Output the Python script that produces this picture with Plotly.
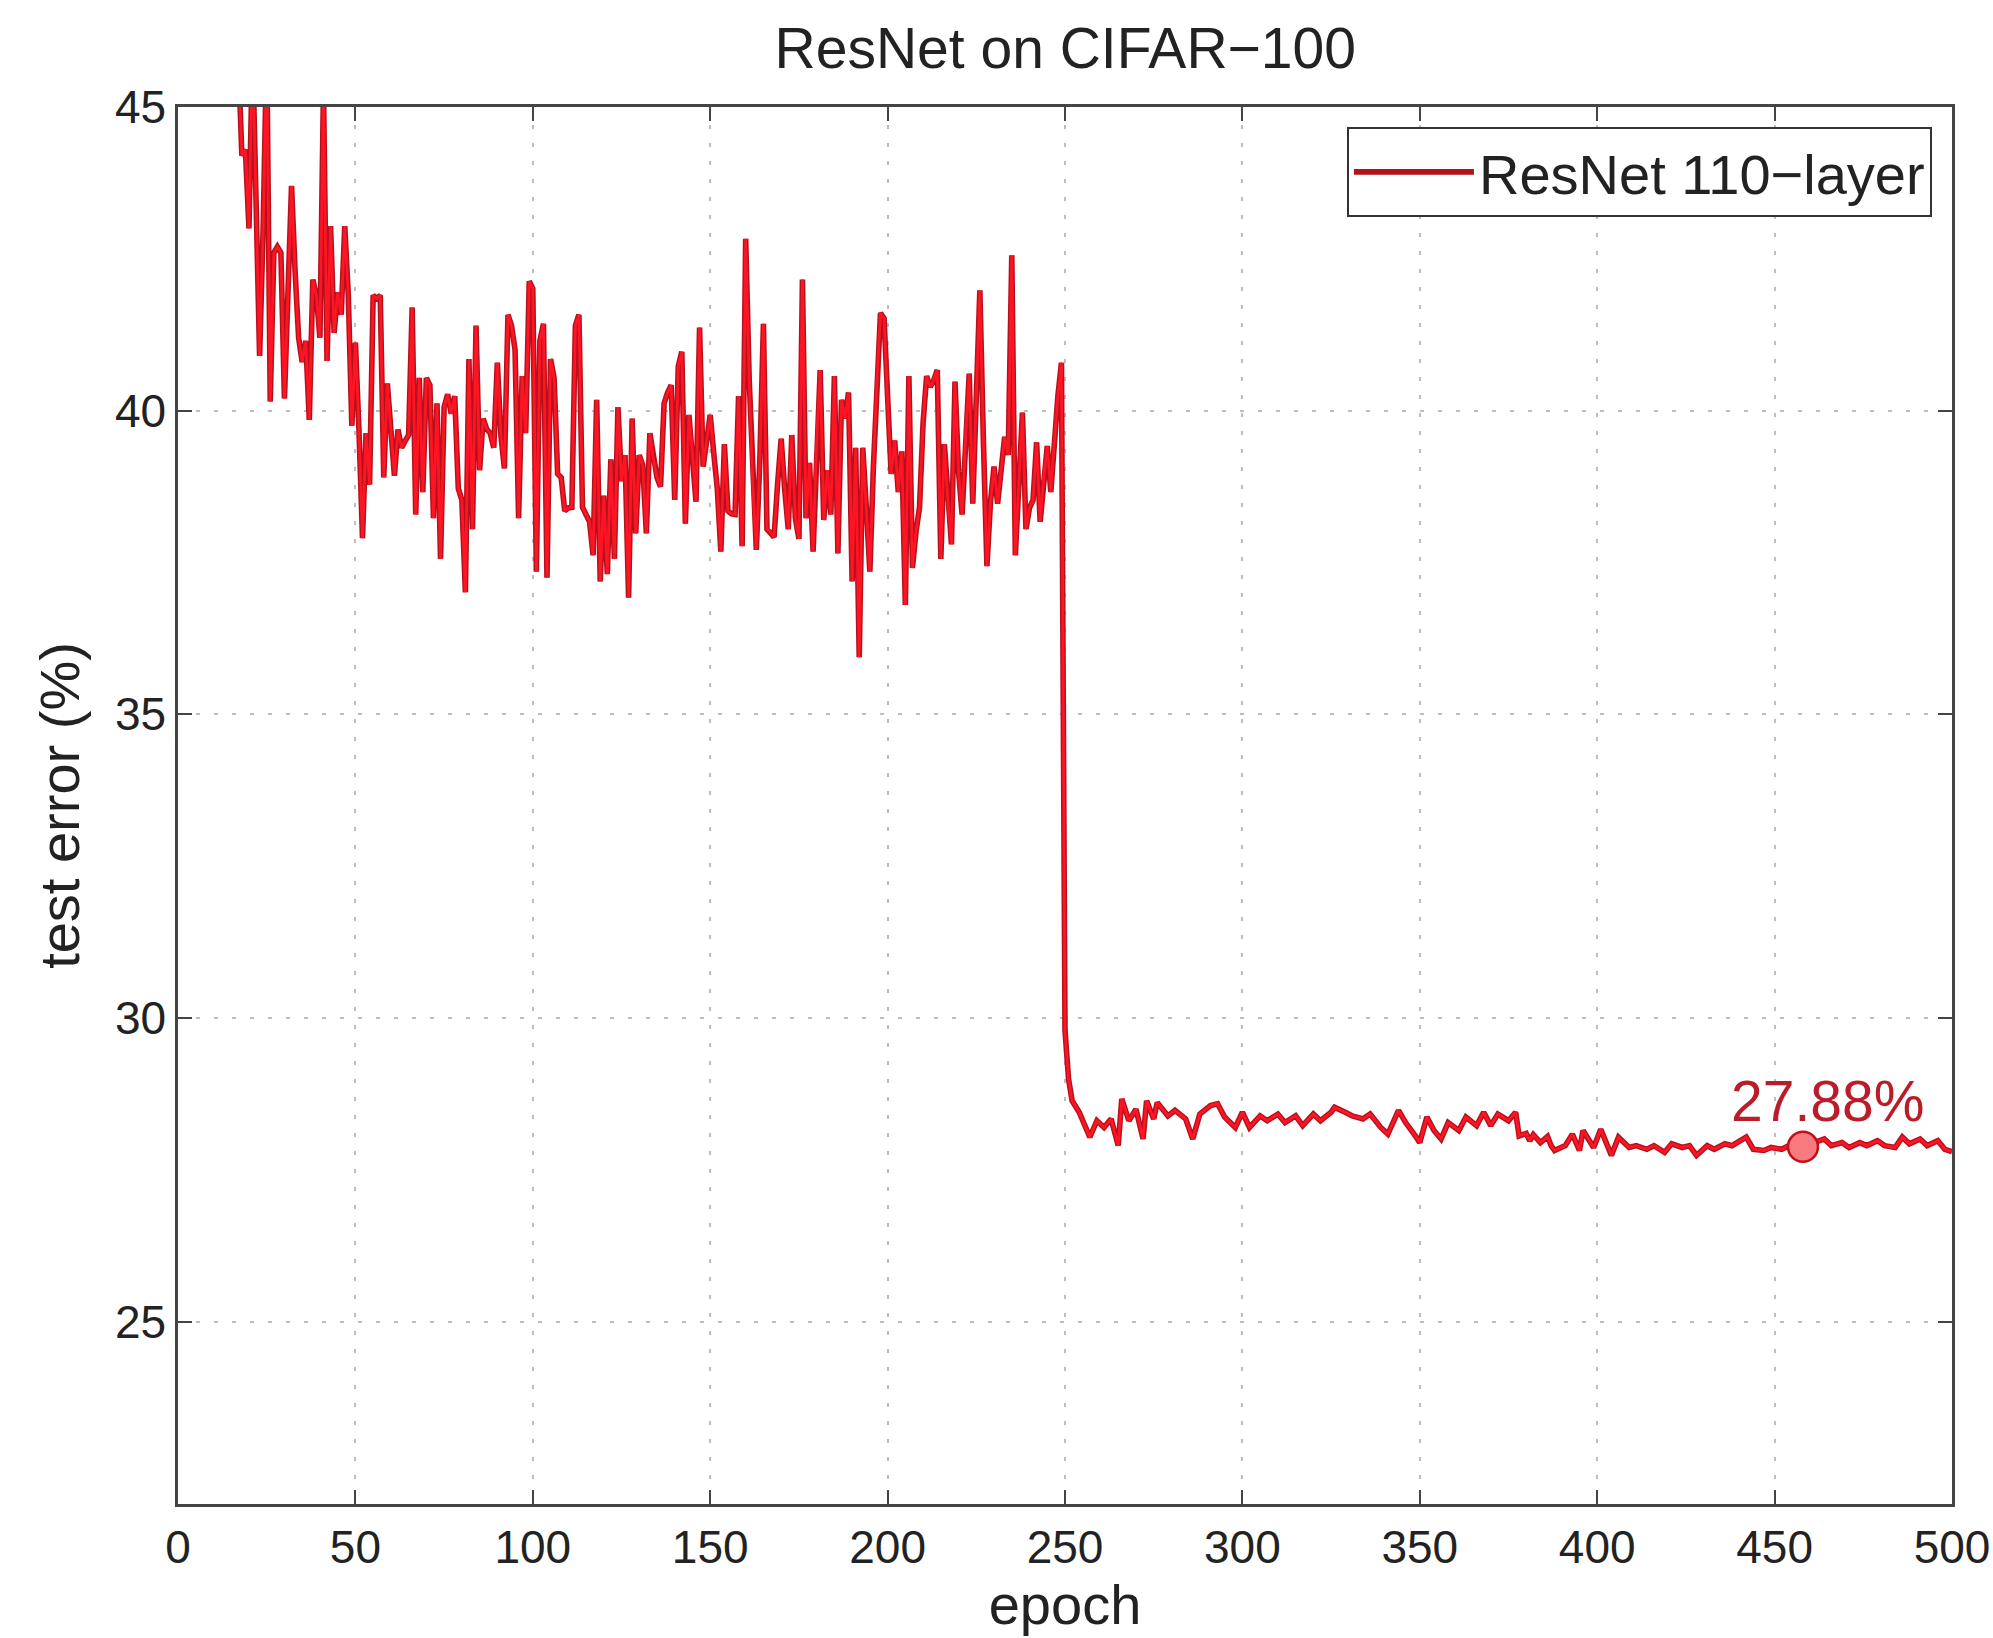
import plotly.graph_objects as go

# ---- data (epoch, test error %) ----
epochs_phase1 = [16, 17, 18, 19, 20, 21, 22, 23, 24, 25, 26, 27, 28, 29, 30, 31, 32, 33, 34, 35,
                 36, 37, 38, 39, 40, 41, 42, 43, 44, 45, 46, 47, 48, 49, 50, 51, 52, 53, 54, 55,
                 56, 57, 58, 59, 60, 61, 62, 63, 64, 65, 66, 67, 68, 69, 70, 71, 72, 73, 74, 75,
                 76, 77, 78, 79, 80, 81, 82, 83, 84, 85, 86, 87, 88, 89, 90, 91, 92, 93, 94, 95,
                 96, 97, 98, 99, 100, 101, 102, 103, 104, 105, 106, 107, 108, 109, 110, 111, 112, 113, 114, 115,
                 116, 117, 118, 119, 120, 121, 122, 123, 124, 125, 126, 127, 128, 129, 130, 131, 132, 133, 134, 135,
                 136, 137, 138, 139, 140, 141, 142, 143, 144, 145, 146, 147, 148, 149, 150, 151, 152, 153, 154, 155,
                 156, 157, 158, 159, 160, 161, 162, 163, 164, 165, 166, 167, 168, 169, 170, 171, 172, 173, 174, 175,
                 176, 177, 178, 179, 180, 181, 182, 183, 184, 185, 186, 187, 188, 189, 190, 191, 192, 193, 194, 195,
                 196, 197, 198, 199, 200, 201, 202, 203, 204, 205, 206, 207, 208, 209, 210, 211, 212, 213, 214, 215,
                 216, 217, 218, 219, 220, 221, 222, 223, 224, 225, 226, 227, 228, 229, 230, 231, 232, 233, 234, 235,
                 236, 237, 238, 239, 240, 241, 242, 243, 244, 245, 246, 247, 248, 249]
error_phase1 = [47.5, 46.0, 44.2, 44.3, 43.0, 46.0, 43.5, 40.9, 43.0, 46.0, 40.15, 42.6, 42.7, 42.6, 40.2, 42.0, 43.7, 42.3, 41.2, 40.8,
                41.15, 39.85, 42.16, 41.9, 41.2, 45.3, 40.82, 43.04, 41.28, 41.95, 41.58, 43.04, 41.9, 39.75, 41.12, 39.69, 37.9, 39.63, 38.78, 41.9,
                41.85, 41.9, 38.9, 40.45, 39.75, 38.93, 39.69, 39.39, 39.5, 39.6, 41.7, 38.29, 40.54, 38.66, 40.54, 40.42, 38.23, 40.12, 37.56, 40.06,
                40.27, 39.95, 40.24, 38.72, 38.53, 37.01, 40.85, 38.05, 41.4, 39.02, 39.87, 39.7, 39.63, 39.39, 40.79, 39.6, 39.05, 41.58, 41.4, 41.0,
                38.23, 40.57, 39.63, 42.13, 42.01, 37.35, 41.15, 41.43, 37.25, 40.85, 40.54, 38.96, 38.9, 38.35, 38.4, 38.41, 41.4, 41.58, 38.41, 38.29,
                38.17, 37.62, 40.18, 37.19, 38.6, 37.31, 39.2, 37.56, 40.06, 38.84, 39.27, 36.92, 39.87, 37.98, 39.27, 39.1, 37.98, 39.63, 39.2, 38.9,
                38.75, 40.12, 40.3, 40.42, 38.53, 40.73, 40.97, 38.14, 39.93, 39.3, 38.5, 41.37, 39.08, 39.5, 39.93, 39.3, 38.72, 37.68, 39.45, 38.35,
                38.3, 38.29, 40.24, 37.77, 42.83, 40.5, 38.78, 37.71, 39.2, 41.43, 38.05, 38.0, 37.92, 38.8, 39.54, 38.7, 38.05, 39.6, 38.23, 37.89,
                42.16, 38.23, 39.14, 37.68, 39.5, 40.67, 38.2, 39.02, 38.29, 40.57, 37.65, 40.18, 39.87, 40.3, 37.19, 39.39, 35.94, 39.39, 38.4, 37.35,
                39.08, 40.5, 41.61, 41.52, 40.2, 38.96, 39.51, 38.66, 39.33, 36.8, 40.57, 37.41, 38.0, 38.41, 39.8, 40.57, 40.39, 40.5, 40.67, 37.56,
                39.45, 38.5, 37.8, 40.48, 39.0, 38.29, 39.6, 40.61, 38.47, 40.2, 41.98, 39.5, 37.44, 38.5, 39.08, 38.47, 39.0, 39.57, 39.27, 42.56,
                37.62, 38.8, 39.97, 38.05, 38.4, 38.53, 39.48, 38.17, 38.9, 39.42, 38.66, 39.5, 40.24, 40.79]

epochs_phase2 = [250, 251, 252, 254, 256, 257, 259, 261, 263, 265, 266, 268, 270, 272, 273, 275, 276, 279, 281, 284,
                 286, 288, 291, 293, 295, 298, 300, 302, 305, 307, 310, 312, 315, 317, 320, 322, 325, 326, 329, 331,
                 334, 336, 339, 341, 344, 346, 349, 350, 352, 354, 356, 358, 361, 363, 366, 368, 370, 372, 375, 377,
                 378, 380, 381, 382, 384, 386, 387, 388, 391, 393, 395, 396, 399, 401, 404, 406, 409, 411, 414, 416,
                 419, 421, 424, 426, 428, 431, 433, 436, 438, 442, 444, 447, 449, 452, 454, 456, 458, 461, 464, 466,
                 469, 471, 474, 476, 479, 481, 484, 486, 488, 491, 493, 496, 498, 500]
error_phase2 = [29.8, 29.0, 28.64, 28.45, 28.17, 28.04, 28.31, 28.2, 28.34, 27.9, 28.67, 28.31, 28.5, 28.01, 28.64, 28.34, 28.61, 28.39, 28.48, 28.34,
                28.01, 28.42, 28.56, 28.59, 28.37, 28.2, 28.45, 28.2, 28.39, 28.31, 28.42, 28.28, 28.39, 28.23, 28.42, 28.31, 28.45, 28.53, 28.45, 28.39,
                28.34, 28.42, 28.2, 28.09, 28.48, 28.28, 28.04, 27.95, 28.37, 28.15, 28.01, 28.28, 28.15, 28.37, 28.23, 28.45, 28.23, 28.42, 28.31, 28.45,
                28.06, 28.1, 27.98, 28.08, 27.95, 28.05, 27.9, 27.82, 27.9, 28.09, 27.82, 28.15, 27.87, 28.17, 27.74, 28.04, 27.87, 27.9, 27.84, 27.9,
                27.79, 27.93, 27.87, 27.9, 27.74, 27.9, 27.84, 27.93, 27.9, 28.04, 27.84, 27.82, 27.87, 27.84, 27.9, 27.93, 27.88, 27.95, 28.01, 27.9,
                27.95, 27.87, 27.95, 27.9, 27.98, 27.9, 27.87, 28.04, 27.93, 28.01, 27.9, 27.98, 27.84, 27.8]

best_epoch = [458]
best_error = [27.88]
best_label = ["27.88%"]

x_ticks = [0, 50, 100, 150, 200, 250, 300, 350, 400, 450, 500]
y_ticks = [25, 30, 35, 40, 45]

epochs = epochs_phase1 + epochs_phase2
errors = error_phase1 + error_phase2

FONT = "Liberation Sans, Arial, Helvetica, sans-serif"
TXT = "#222222"

fig = go.Figure()
fig.add_trace(go.Scatter(x=epochs, y=errors, mode="lines", name="ResNet 110\u2212layer",
                         line=dict(color="#b3121c", width=5.6), showlegend=True))
fig.add_trace(go.Scatter(x=epochs, y=errors, mode="lines", name="ResNet 110\u2212layer (core)",
                         line=dict(color="#ff1424", width=2.8), showlegend=False, hoverinfo="skip"))
fig.add_trace(go.Scatter(x=best_epoch, y=best_error, mode="markers", showlegend=False,
                         marker=dict(size=30, color="#f87a7e", line=dict(color="#c0101e", width=2.5))))

fig.add_annotation(x=best_epoch[0], y=best_error[0], text=best_label[0], showarrow=False,
                   xanchor="center", yanchor="bottom", xshift=25, yshift=12,
                   font=dict(family=FONT, size=57, color="#bc1c2a"))

axis_common = dict(showline=True, linecolor="#444444", linewidth=2.5, mirror="ticks",
                   ticks="inside", ticklen=14, tickwidth=2, tickcolor="#444444",
                   showgrid=True, gridcolor="#bdbdbd", gridwidth=1.6, griddash="4px,14px",
                   zeroline=False, tickfont=dict(family=FONT, size=46, color=TXT))

fig.update_xaxes(range=[0, 500], tickvals=x_ticks, ticklabelstandoff=1,
                 title=dict(text="epoch", font=dict(family=FONT, size=56, color=TXT), standoff=8),
                 **axis_common)
fig.update_yaxes(range=[22, 45], tickvals=y_ticks, ticklabelstandoff=0,
                 title=dict(text="test error (%)", font=dict(family=FONT, size=56, color=TXT), standoff=18),
                 **axis_common)

fig.update_layout(
    width=1993, height=1638,
    margin=dict(l=178, r=41, t=107, b=134, autoexpand=False),
    paper_bgcolor="white", plot_bgcolor="white",
    title=dict(text="ResNet on CIFAR\u2212100", x=0.5345, xanchor="center", y=0.9707, yanchor="middle",
               font=dict(family=FONT, size=57, color=TXT)),
    legend=dict(x=0.9887, xanchor="right", y=0.9857, yanchor="top",
                bgcolor="white", bordercolor="#333333", borderwidth=2,
                font=dict(family=FONT, size=56, color=TXT), itemwidth=120),
    font=dict(family=FONT, color=TXT),
)

fig.write_html("out.html")
